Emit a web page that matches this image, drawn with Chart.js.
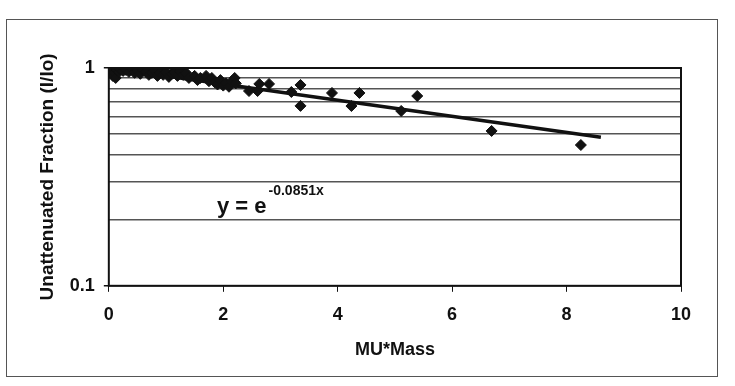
<!DOCTYPE html>
<html><head><meta charset="utf-8">
<script src="https://cdn.jsdelivr.net/npm/chart.js@4/dist/chart.umd.min.js"></script>
<style>
html,body{margin:0;padding:0;background:#fff;}
#wrap{position:relative;width:735px;height:386px;}
#frame{position:absolute;left:6px;top:19px;width:712px;height:358px;border:1px solid #555;box-sizing:border-box;}
canvas{position:absolute;left:0;top:0;}
</style></head>
<body><div id="wrap"><div id="frame"></div><canvas id="c" width="735" height="386"></canvas></div>
<script>
// measured points (MU*Mass, I/Io)
const xValues = [0.05,0.07,0.08,0.1,0.12,0.15,0.18,0.2,0.25,0.3,0.35,0.4,0.45,0.5,0.55,0.6,0.65,0.7,0.75,0.8,0.85,0.9,0.95,1.0,1.05,1.1,1.15,1.2,1.25,1.3,1.35,1.4,1.5,1.55,1.6,1.7,1.75,1.8,1.85,1.9,1.95,2.0,2.05,2.1,2.15,2.2,2.22,2.45,2.6,2.63,2.8,3.19,3.35,3.35,3.9,4.24,4.38,5.11,5.39,6.69,8.25];
const yValues = [0.97,0.92,0.99,0.95,0.9,0.98,0.96,0.99,0.97,0.98,0.96,0.99,0.95,0.97,0.94,0.98,0.96,0.93,0.95,0.97,0.92,0.95,0.93,0.96,0.91,0.94,0.95,0.92,0.97,0.93,0.95,0.9,0.92,0.88,0.9,0.92,0.87,0.9,0.86,0.84,0.88,0.83,0.85,0.82,0.87,0.9,0.85,0.784,0.784,0.845,0.845,0.776,0.836,0.67,0.768,0.669,0.768,0.635,0.744,0.514,0.443];
const fitX = [0, 8.6];
const fitY = [1.0, 0.481];
const yTicks = [0.1,0.2,0.3,0.4,0.5,0.6,0.7,0.8,0.9,1];
const xTicks = [0,2,4,6,8,10];
const FONT = "'Liberation Sans', Arial, sans-serif";

const borderPlugin = {
  id:'border',
  afterDatasetsDraw(chart){
    const {ctx, chartArea:a} = chart;
    ctx.save();
    ctx.strokeStyle='#111'; ctx.lineWidth=2;
    ctx.strokeRect(a.left, a.top, a.right-a.left, a.bottom-a.top);
    // equation label
    const x = chart.scales.x.getPixelForValue(1.89);
    const y = chart.scales.y.getPixelForValue(0.216);
    ctx.fillStyle='#111';
    ctx.font = "bold 22px " + FONT;
    ctx.textBaseline='alphabetic';
    ctx.fillText('y = e', x, y);
    const w = ctx.measureText('y = e').width;
    ctx.font = "bold 14px " + FONT;
    ctx.fillText('-0.0851x', x + w + 2, y - 18);
    ctx.restore();
  }
};

new Chart(document.getElementById('c'), {
  type:'scatter',
  data:{datasets:[
    {label:'data', data:xValues.map((v,i)=>({x:v,y:yValues[i]})), pointStyle:'rectRot', pointRadius:5.5, backgroundColor:'#111', borderColor:'#111', showLine:false},
    {label:'fit', type:'line', data:fitX.map((v,i)=>({x:v,y:fitY[i]})), borderColor:'#111', borderWidth:3.5, pointRadius:0, fill:false}
  ]},
  options:{
    responsive:false, animation:false,
    layout:{padding:{left:32,right:54,top:68,bottom:21}},
    plugins:{legend:{display:false}, tooltip:{enabled:false}},
    scales:{
      x:{type:'linear', min:0, max:10,
        afterBuildTicks(s){ s.ticks = xTicks.map(v=>({value:v})); },
        grid:{drawOnChartArea:false, drawTicks:true, tickLength:6, color:'#111'},
        border:{display:false},
        ticks:{color:'#111', font:{family:FONT, size:18, weight:'bold'}, padding:12},
        title:{display:true, text:'MU*Mass', color:'#111', font:{family:FONT, size:18, weight:'bold'}, padding:{top:2}}
      },
      y:{type:'logarithmic', min:0.1, max:1,
        afterBuildTicks(s){ s.ticks = yTicks.map(v=>({value:v})); },
        grid:{color:'#555', lineWidth:1.5, tickLength:5, tickColor:(c)=> (c.tick && (c.tick.value===1||c.tick.value===0.1)) ? '#111' : 'rgba(0,0,0,0)'},
        border:{display:false},
        ticks:{color:'#111', font:{family:FONT, size:18, weight:'bold'}, padding:9, autoSkip:false,
          callback:(v)=> (v===1 ? '1' : (Math.abs(v-0.1)<1e-9 ? '0.1' : ''))},
        title:{display:true, text:'Unattenuated Fraction (I/Io)', color:'#111', font:{family:FONT, size:19, weight:'bold'}, padding:{bottom:2}}
      }
    }
  },
  plugins:[borderPlugin]
});
</script></body></html>
